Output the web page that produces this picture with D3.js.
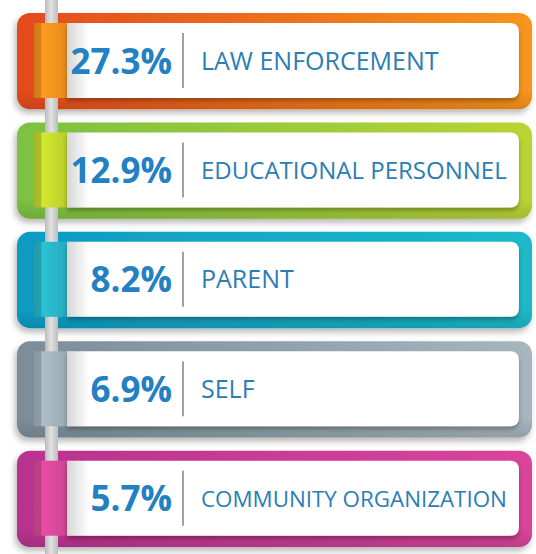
<!DOCTYPE html>
<html>
<head>
  <style>
    body { margin: 0; background: white; }
    svg { display: block; }
    .pct { font-family: "Open Sans", sans-serif; font-weight: 700; fill: #2280c3; }
    .lbl { font-family: "Open Sans", sans-serif; font-weight: 400; fill: #2b7db5; }
  </style>
</head>
<body>
  <script src="https://d3js.org/d3.v7.min.js"></script>
  <script>
    var width = 536, height = 554;

    var labels = ["LAW ENFORCEMENT", "EDUCATIONAL PERSONNEL", "PARENT", "SELF", "COMMUNITY ORGANIZATION"];
    var values = [27.3, 12.9, 8.2, 6.9, 5.7];

    // band colour: left end, right end, tab
    var leftColors  = ["#e44a1f", "#7cc142", "#0f9ac3", "#7b8d99", "#b8338f"];
    var rightColors = ["#f7951e", "#b9d433", "#1bbac8", "#a7b5be", "#da449b"];
    var tabColors   = ["#f7941d", "#c8dc2e", "#2ab8ca", "#a5b5bf", "#dc4a9d"];

    var data = labels.map((l, i) => ({label: l, value: values[i], i: i}));

    var svg = d3.select("body").append("svg")
        .attr("width", width).attr("height", height);
    var defs = svg.append("defs");

    var shadow = defs.append("filter").attr("id", "shadow")
        .attr("x", "-10%").attr("y", "-20%").attr("width", "120%").attr("height", "150%");
    shadow.append("feDropShadow").attr("dx", -2).attr("dy", 4)
        .attr("stdDeviation", 3).attr("flood-color", "#000").attr("flood-opacity", 0.28);

    var cardShadow = defs.append("filter").attr("id", "cardShadow")
        .attr("x", "-10%").attr("y", "-20%").attr("width", "120%").attr("height", "150%");
    cardShadow.append("feDropShadow").attr("dx", 0).attr("dy", 3)
        .attr("stdDeviation", 2).attr("flood-color", "#000").attr("flood-opacity", 0.3);

    data.forEach(d => {
      var g = defs.append("linearGradient").attr("id", "band" + d.i)
          .attr("x1", 0).attr("x2", 1).attr("y1", 0).attr("y2", 0);
      g.append("stop").attr("offset", "0%").attr("stop-color", leftColors[d.i]);
      g.append("stop").attr("offset", "100%").attr("stop-color", rightColors[d.i]);

      var t = defs.append("linearGradient").attr("id", "tab" + d.i)
          .attr("x1", 0).attr("x2", 1).attr("y1", 0).attr("y2", 0);
      t.append("stop").attr("offset", "0%").attr("stop-color", d3.color(tabColors[d.i]).darker(0.5));
      t.append("stop").attr("offset", "18%").attr("stop-color", d3.color(tabColors[d.i]).darker(0.4));
      t.append("stop").attr("offset", "22%").attr("stop-color", d3.color(tabColors[d.i]).brighter(0.15));
      t.append("stop").attr("offset", "100%").attr("stop-color", d3.color(tabColors[d.i]).darker(0.25));
    });

    var bottomShade = defs.append("linearGradient").attr("id", "bottomShade")
        .attr("x1", 0).attr("x2", 0).attr("y1", 0).attr("y2", 1);
    bottomShade.append("stop").attr("offset", "0%").attr("stop-color", "#000").attr("stop-opacity", 0);
    bottomShade.append("stop").attr("offset", "80%").attr("stop-color", "#000").attr("stop-opacity", 0);
    bottomShade.append("stop").attr("offset", "100%").attr("stop-color", "#000").attr("stop-opacity", 0.12);

    var curl = defs.append("linearGradient").attr("id", "curl")
        .attr("x1", 0).attr("x2", 1).attr("y1", 0).attr("y2", 0);
    curl.append("stop").attr("offset", "0%").attr("stop-color", "#000").attr("stop-opacity", 0.16);
    curl.append("stop").attr("offset", "100%").attr("stop-color", "#000").attr("stop-opacity", 0);

    var pole = defs.append("linearGradient").attr("id", "pole")
        .attr("x1", 0).attr("x2", 1).attr("y1", 0).attr("y2", 0);
    pole.append("stop").attr("offset", "0%").attr("stop-color", "#b9b9b9");
    pole.append("stop").attr("offset", "45%").attr("stop-color", "#e2e2e2");
    pole.append("stop").attr("offset", "100%").attr("stop-color", "#bdbdbd");

    var y = d3.scaleBand()
        .domain(labels)
        .range([13, 547])
        .paddingInner(0.12);

    var bandX0 = 17, bandX1 = 532;
    var tabX0 = 34, cardX0 = 67, cardX1 = 519;
    var cardInset = 10, cardH = 75;

    // coloured bands
    var rows = svg.selectAll("g.row")
        .data(data)
      .enter().append("g")
        .attr("class", "row")
        .attr("transform", d => "translate(0," + y(d.label) + ")");

    rows.append("rect")
        .attr("x", bandX0).attr("y", 0)
        .attr("width", bandX1 - bandX0).attr("height", y.bandwidth())
        .attr("rx", 13)
        .attr("fill", d => "url(#band" + d.i + ")")
        .attr("filter", "url(#shadow)");

    rows.append("rect")
        .attr("x", bandX0).attr("y", 0)
        .attr("width", bandX1 - bandX0).attr("height", y.bandwidth())
        .attr("rx", 13)
        .attr("fill", "url(#bottomShade)");

    // pole behind the tabs
    svg.append("rect")
        .attr("x", 45).attr("y", 0)
        .attr("width", 13).attr("height", height)
        .attr("fill", "url(#pole)");

    var fronts = svg.selectAll("g.front")
        .data(data)
      .enter().append("g")
        .attr("class", "front")
        .attr("transform", d => "translate(0," + (y(d.label) + cardInset) + ")");

    fronts.append("rect")
        .attr("x", tabX0).attr("y", 0)
        .attr("width", cardX0 - tabX0 + 4).attr("height", cardH)
        .attr("fill", d => "url(#tab" + d.i + ")");

    fronts.append("path")
        .attr("d", "M" + cardX0 + ",0H" + (cardX1 - 9) + "Q" + cardX1 + ",0 " + cardX1 + ",9V" + (cardH - 9) +
                   "Q" + cardX1 + "," + cardH + " " + (cardX1 - 9) + "," + cardH + "H" + cardX0 + "Z")
        .attr("fill", "#fff")
        .attr("filter", "url(#cardShadow)");

    fronts.append("rect")
        .attr("x", cardX0).attr("y", 0)
        .attr("width", 22).attr("height", cardH)
        .attr("fill", "url(#curl)");

    fronts.append("line")
        .attr("x1", 183).attr("x2", 183)
        .attr("y1", 10).attr("y2", cardH - 10)
        .attr("stroke", "#7a7a7a").attr("stroke-width", 1.4);

    fronts.append("text")
        .attr("class", "pct")
        .attr("x", 172).attr("y", cardH / 2 + 13)
        .attr("text-anchor", "end")
        .style("font-size", "35px")
        .text(d => d3.format(".1f")(d.value) + "%");

    // labels: shrink the long ones so they stay inside the card
    fronts.append("text")
        .attr("class", "lbl")
        .attr("x", 201).attr("y", cardH / 2 + 9)
        .style("font-size", "25px")
        .text(d => d.label)
        .each(function() {
          var w = this.getComputedTextLength();
          if (w > 306) d3.select(this).style("font-size", (25 * 306 / w).toFixed(2) + "px");
        });
  </script>
</body>
</html>
